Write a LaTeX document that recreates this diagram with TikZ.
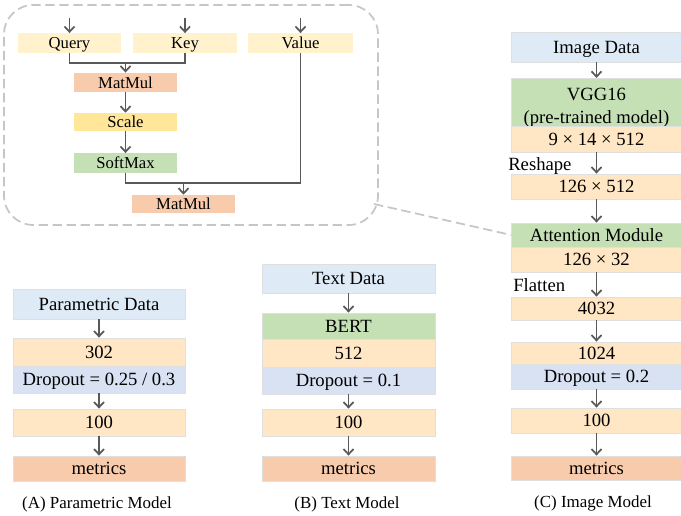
\documentclass[tikz,border=0pt]{standalone}
\usepackage{fontspec}
\setmainfont{Liberation Serif}
\usetikzlibrary{arrows.meta}
\definecolor{datablue}{HTML}{DEEBF7}
\definecolor{layerorange}{HTML}{FFE6C4}
\definecolor{modelgreen}{HTML}{C5E0B4}
\definecolor{dropblue}{HTML}{D9E2F3}
\definecolor{metricred}{HTML}{F8CBAD}
\definecolor{qkvyellow}{HTML}{FFF2CC}
\definecolor{scaleyellow}{HTML}{FFE699}
\definecolor{arrowgray}{HTML}{595959}
\begin{document}
\begin{tikzpicture}[x=0.75pt,y=-0.75pt,
    arr/.style={->,>={Straight Barb[length=4pt,width=7.5pt]},draw=arrowgray,line width=1.3pt},
    lnk/.style={draw=arrowgray,line width=1.3pt},
    blk/.style={draw=gray!25,line width=0.6pt,inner sep=0pt,font=\fontsize{14}{16}\selectfont,text height=9.3pt,text depth=0pt},
    att/.style={inner sep=0pt,minimum width=77.5pt,minimum height=14.5pt,font=\fontsize{12.5}{14}\selectfont,text height=8.3pt,text depth=0pt},
    captxt/.style={font=\fontsize{12.7}{14}\selectfont}]
  \useasboundingbox (0,0) rectangle (681,516);

  % attention module
  \node[draw=gray!45,line width=1.3pt,dash pattern=on 7pt off 3.5pt,rounded corners=22pt,minimum width=280.5pt,minimum height=165pt] (panel) at (191,115) {};
  \node[att,fill=qkvyellow] (query) at (69.5,43) {Query};
  \node[att,fill=qkvyellow] (key) at (185,43) {Key};
  \node[att,fill=qkvyellow,minimum width=78.75pt] (value) at (300.5,43) {Value};
  \coordinate (qin) at (69.5,18);
  \coordinate (kin) at (185,18);
  \coordinate (vin) at (300.5,18);
  \draw[arr] (qin) -- (query);
  \draw[arr] (kin) -- (key);
  \draw[arr] (vin) -- (value);
  \node[att,fill=metricred] (matmul1) at (125.5,82.5) {MatMul};
  \node[att,fill=scaleyellow,minimum height=13.5pt] (scale) at (125.5,122) {Scale};
  \node[att,fill=modelgreen] (softmax) at (125.5,163) {SoftMax};
  \node[att,fill=metricred,minimum height=13.5pt] (matmul2) at (183.5,204) {MatMul};
  \coordinate (qk) at (125.5,63);
  \coordinate (sv) at (183.5,183);
  \draw[lnk] (query.south) |- (qk) -| (key.south);
  \draw[arr] (qk) -- (matmul1);
  \draw[arr] (matmul1) -- (scale);
  \draw[arr] (scale) -- (softmax);
  \draw[lnk] (softmax.south) |- (sv) -| (value.south);
  \draw[arr] (sv) -- (matmul2);

  % (A) parametric model
  \node[blk,fill=datablue,minimum width=129pt,minimum height=22.5pt] (pdata) at (99,304) {Parametric Data};
  \node[blk,fill=layerorange,minimum width=129pt,minimum height=21pt] (a302) at (99,352) {302};
  \node[blk,fill=dropblue,minimum width=129pt,minimum height=20.25pt] (adrop) at (99,379.5) {Dropout = 0.25 / 0.3};
  \node[blk,fill=layerorange,minimum width=129pt,minimum height=20.25pt] (a100) at (99,422.5) {100};
  \node[blk,fill=metricred,minimum width=129pt,minimum height=18.75pt] (amet) at (99,468.5) {metrics};
  \draw[arr] (pdata) -- (a302);
  \draw[arr] (adrop) -- (a100);
  \draw[arr] (a100) -- (amet);
  \node[captxt] (capa) at (97,504) {(A) Parametric Model};

  % (B) text model
  \node[blk,fill=datablue,minimum width=129.75pt,minimum height=21.75pt] (tdata) at (348.5,278.5) {Text Data};
  \node[blk,fill=modelgreen,minimum width=129.75pt,minimum height=19.5pt] (bert) at (348.5,326) {BERT};
  \node[blk,fill=layerorange,minimum width=129.75pt,minimum height=21pt] (b512) at (348.5,353) {512};
  \node[blk,fill=dropblue,minimum width=129.75pt,minimum height=20.25pt] (bdrop) at (348.5,380.5) {Dropout = 0.1};
  \node[blk,fill=layerorange,minimum width=129.75pt,minimum height=20.25pt] (b100) at (348.5,422.5) {100};
  \node[blk,fill=metricred,minimum width=129.75pt,minimum height=18.75pt] (bmet) at (348.5,468.5) {metrics};
  \draw[arr] (tdata) -- (bert);
  \draw[arr] (bdrop) -- (b100);
  \draw[arr] (b100) -- (bmet);
  \node[captxt] (capb) at (347,504) {(B) Text Model};

  % (C) image model
  \node[blk,fill=datablue,minimum width=127.5pt,minimum height=22.5pt] (idata) at (596.5,47) {Image Data};
  \node[blk,fill=modelgreen,minimum width=127.5pt,minimum height=34.5pt,align=center,text height=,text depth=] (vgg) at (596.5,103) {\rule{0pt}{16.5pt}VGG16\\[1.5pt](pre-trained model)};
  \node[blk,fill=layerorange,minimum width=127.5pt,minimum height=19.5pt] (c9) at (596.5,139) {9 × 14 × 512};
  \node[blk,fill=layerorange,minimum width=127.5pt,minimum height=18.75pt] (c126) at (596.5,186.5) {126 × 512};
  \node[blk,fill=modelgreen,minimum width=127.5pt,minimum height=18pt] (attmod) at (596.5,235) {Attention Module};
  \node[blk,fill=layerorange,minimum width=127.5pt,minimum height=18.75pt] (c32) at (596.5,259.5) {126 × 32};
  \node[blk,fill=layerorange,minimum width=127.5pt,minimum height=17.25pt] (c4032) at (596.5,308.5) {4032};
  \node[blk,fill=layerorange,minimum width=127.5pt,minimum height=16.5pt] (c1024) at (596.5,353) {1024};
  \node[blk,fill=dropblue,minimum width=127.5pt,minimum height=18.75pt] (cdrop) at (596.5,376.5) {Dropout = 0.2};
  \node[blk,fill=layerorange,minimum width=127.5pt,minimum height=18.75pt] (c100) at (596.5,420.5) {100};
  \node[blk,fill=metricred,minimum width=127.5pt,minimum height=18pt] (cmet) at (596.5,468) {metrics};
  \node[font=\fontsize{14}{16}\selectfont,anchor=west,inner sep=0pt] (reshape) at (508,166) {Reshape};
  \node[font=\fontsize{14}{16}\selectfont,anchor=west,inner sep=0pt] (flatten) at (513,285) {Flatten};
  \draw[arr] (idata) -- (vgg);
  \draw[arr] (c9) -- (c126);
  \draw[arr] (c126) -- (attmod);
  \draw[arr] (c32) -- (c4032);
  \draw[arr] (c4032) -- (c1024);
  \draw[arr] (cdrop) -- (c100);
  \draw[arr] (c100) -- (cmet);
  \node[captxt] (capc) at (593,503) {(C) Image Model};

  % zoom link
  \coordinate (pcorner) at (374,204);
  \draw[draw=gray!45,line width=1.3pt,dash pattern=on 7pt off 3.5pt] (pcorner) -- (attmod.west);
\end{tikzpicture}
\end{document}
